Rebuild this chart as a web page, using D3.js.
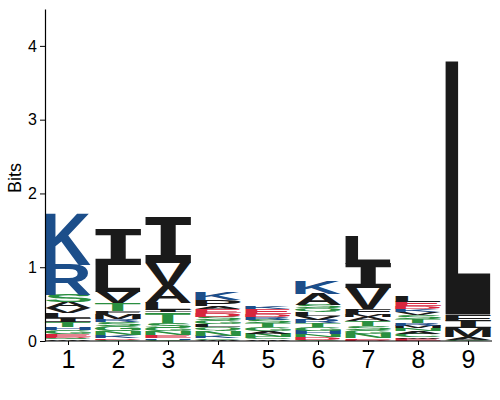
<!DOCTYPE html>
<html><head><meta charset="utf-8">
<script src="https://cdn.jsdelivr.net/npm/d3@7"></script>
<style>body{margin:0;background:#fff}svg{display:block}</style>
</head><body>
<script>
// Sequence logo data: each column listed bottom-to-top as [residue, bits]
const positions = [1,2,3,4,5,6,7,8,9];
const pos1 = [["W",0.02],["Q",0.02],["D",0.015],["E",0.04],["G",0.05],["H",0.04],["T",0.07],["I",0.05],["L",0.07],["V",0.07],["A",0.08],["S",0.10],["R",0.41],["K",0.71]];
const pos2 = [["C",0.02],["D",0.02],["K",0.04],["N",0.054],["G",0.068],["S",0.054],["R",0.041],["M",0.068],["F",0.041],["T",0.109],["V",0.15],["L",0.367],["I",0.49]];
const pos3 = [["C",0.02],["H",0.02],["E",0.04],["N",0.05],["G",0.05],["S",0.07],["T",0.14],["I",0.03],["L",0.10],["A",0.23],["V",0.31],["I",0.61]];
const pos4 = [["W",0.02],["C",0.02],["K",0.03],["N",0.07],["Q",0.05],["L",0.04],["G",0.05],["S",0.05],["D",0.05],["E",0.05],["A",0.04],["P",0.08],["K",0.11]];
const pos5 = [["W",0.02],["C",0.03],["N",0.05],["A",0.04],["G",0.05],["T",0.05],["S",0.05],["R",0.03],["D",0.04],["E",0.07],["K",0.04]];
const pos6 = [["C",0.02],["D",0.03],["N",0.04],["H",0.05],["G",0.05],["T",0.05],["R",0.05],["V",0.05],["L",0.05],["Q",0.05],["S",0.05],["A",0.15],["K",0.17]];
const pos7 = [["D",0.02],["E",0.02],["N",0.06],["G",0.05],["S",0.05],["T",0.07],["A",0.05],["M",0.04],["F",0.07],["V",0.29],["I",0.33],["L",0.38]];
const pos8 = [["E",0.03],["W",0.02],["C",0.05],["A",0.04],["N",0.04],["M",0.03],["R",0.04],["T",0.05],["S",0.05],["V",0.04],["K",0.04],["D",0.04],["E",0.06],["L",0.08]];
const pos9 = [["C",0.02],["A",0.03],["M",0.12],["I",0.10],["F",0.09],["L",3.44]];
const columns = [pos1,pos2,pos3,pos4,pos5,pos6,pos7,pos8,pos9];
const yTicks = [0,1,2,3,4];
const yLabel = "Bits";

const basic = "KRH", acidic = "DE", polar = "STGNQCY";
function colorOf(r){
  if (basic.includes(r)) return "#1c4e8a";
  if (acidic.includes(r)) return "#d7263d";
  if (polar.includes(r)) return "#2a8f3f";
  return "#1a1a1a";
}

const W = 500, H = 400;
const svg = d3.select("body").append("svg").attr("width", W).attr("height", H);

const x = d3.scalePoint().domain(positions).range([68, 468]);
const y = d3.scaleLinear().domain([0, 4.5]).range([341, 9]);
const letterW = 46;

const FONT = "bold 100px 'Liberation Sans', Arial, sans-serif";
const FONT_I = "bold 100px 'DejaVu Sans Mono', monospace";
const fontFor = r => r === "I" ? FONT_I : FONT;
const ctx = document.createElement("canvas").getContext("2d");
const metrics = {};
function m(ch){
  if (!metrics[ch]) {
    ctx.font = fontFor(ch);
    const t = ctx.measureText(ch);
    metrics[ch] = {l: t.actualBoundingBoxLeft, r: t.actualBoundingBoxRight,
                   a: t.actualBoundingBoxAscent, d: t.actualBoundingBoxDescent};
  }
  return metrics[ch];
}

const g = svg.append("g");
columns.forEach((col, i) => {
  let base = 0;
  const cx = x(positions[i]);
  col.forEach(([res, bits]) => {
    const y0 = y(base + bits), y1 = y(base);
    base += bits;
    const h = y1 - y0;
    if (h <= 0) return;
    const mm = m(res);
    const gw = mm.l + mm.r, gh = mm.a + mm.d;
    const sx = letterW / gw, sy = h / gh;
    g.append("text")
      .attr("transform", `translate(${cx - letterW/2},${y0}) scale(${sx},${sy}) translate(${mm.l},${mm.a})`)
      .style("font", fontFor(res))
      .attr("fill", colorOf(res))
      .text(res);
  });
});

// Y axis
const yAxis = svg.append("g").attr("transform", "translate(45,0)")
  .call(d3.axisLeft(y).tickValues(yTicks).tickSize(5).tickSizeOuter(0).tickFormat(d3.format("d")));
yAxis.select(".domain").attr("stroke", "#000").attr("stroke-width", 1.2);
yAxis.selectAll(".tick line").attr("stroke", "#000");
yAxis.selectAll(".tick text").attr("font-family", "'Liberation Sans', Arial, sans-serif")
  .attr("font-size", 16).attr("fill", "#000").attr("x", -8);

// X axis
const xAxis = svg.append("g").attr("transform", "translate(0,341)")
  .call(d3.axisBottom(x).tickSize(4).tickSizeOuter(0));
xAxis.select(".domain").attr("d", "M45,0H492").attr("stroke", "#000").attr("stroke-width", 1.2);
xAxis.selectAll(".tick line").attr("stroke", "#000");
xAxis.selectAll(".tick text").attr("font-family", "'Liberation Sans', Arial, sans-serif")
  .attr("font-size", 25).attr("fill", "#000").attr("y", 9);

svg.append("text")
  .attr("transform", "translate(21,178) rotate(-90)")
  .attr("text-anchor", "middle")
  .attr("font-family", "'Liberation Sans', Arial, sans-serif")
  .attr("font-size", 18).attr("fill", "#000")
  .text(yLabel);
</script>
</body></html>
